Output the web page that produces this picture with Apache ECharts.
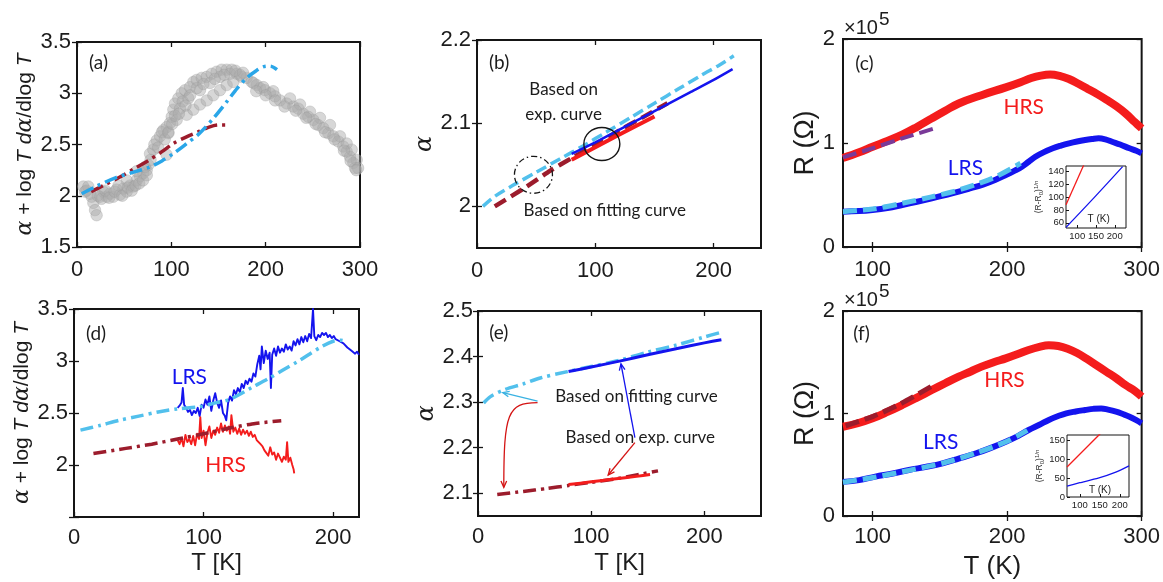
<!DOCTYPE html>
<html><head><meta charset="utf-8">
<script src="https://cdn.jsdelivr.net/npm/echarts@6/dist/echarts.min.js"></script>
<style>html,body{margin:0;padding:0;background:#fff}#chart{width:1163px;height:582px}</style>
</head><body><div id="chart"></div>
<script>
// ---------- (a) alpha + log T dalpha/dlog T vs T ----------
const aMeasured = [[6.7,2.09],[8.5,2.04],[12,2.09],[15.5,1.99],[17.3,1.93],[19.1,1.86],[20.8,1.81],[24.4,1.99],[27.9,2.04],[31.4,1.99],[35,2.02],[38.5,1.99],[42,2.06],[45.6,2.01],[49.1,2.07],[52.7,2.04],[56.2,2.10],[59.7,2.09],[63.3,2.15],[66.8,2.19],[70.3,2.22],[73.9,2.25],[75.6,2.30],[77.4,2.41],[80.9,2.45],[84.5,2.54],[88,2.58],[91.5,2.64],[95,2.67],[98.6,2.71],[100.4,2.77],[102.1,2.84],[103.9,2.90],[107.4,2.95],[111,3.0],[114.5,3.03],[119.8,3.06],[123.3,3.11],[126.9,3.13],[132.2,3.15],[137.5,3.16],[142.8,3.19],[148,3.21],[153.4,3.23],[158.7,3.23],[164,3.23],[169.3,3.19],[174.6,3.16],[179.9,3.15],[185.2,3.11],[190.5,3.08],[194,3.05],[199.3,3.03],[204.6,3.0],[209.9,2.97],[215.2,2.93],[222.3,2.90],[229.3,2.87],[234.6,2.85],[239.9,2.80],[245.2,2.77],[250.5,2.74],[255.8,2.69],[261.1,2.66],[266.4,2.61],[271.7,2.58],[277,2.53],[282.3,2.48],[285.9,2.43],[289.4,2.38],[292.9,2.32],[294.7,2.27],
  [95,2.40],[116.3,2.79],[123.3,2.84],[130.4,2.89],[137.5,2.93],[144.5,2.98],[151.6,3.03],[158.7,3.08],[165.7,3.11],
  [52.7,2.15],[63.3,2.24],[72,2.28],[96.8,2.61],[105.7,2.74],[109.2,2.85],[118,2.95],[130.4,3.03],[141,3.10],[151.6,3.16],[162.2,3.19],[172.8,3.18],[187,3.10],[197.5,3.06],[208,3.02],[225.8,2.95],[236.4,2.89],[247,2.82],[257.6,2.76],[268.2,2.69],[278.8,2.58],[285.9,2.51],[291.2,2.45],[296.5,2.35],[298,2.27],
  [10,2.05],[14,2.02],[22,2.0],[26,1.97],[30,2.05],[34,1.98],[40,2.04],[44,2.1],[48,2.0],[54,2.08],[58,2.05],[62,2.1],[66,2.12],[70,2.15],[74,2.2],
  [78,2.35],[82,2.5],[86,2.47],[90,2.62],[93,2.55],[97,2.62],[101,2.7],[104,2.78],[108,2.8],[112,2.92],[115,2.88],[120,2.98],[127,3.05],[134,3.09],[146,3.14],[156,3.18],[168,3.22],[176,3.2],
  [190,3.02],[200,2.98],[210,2.93],[220,2.87],[232,2.83],[243,2.76],[253,2.7],[263,2.62],[273,2.55],[283,2.44],[290,2.34],[296,2.25]];
const aFitLRS = [[5,2.02],[20,2.09],[42,2.18],[60,2.23],[77,2.28],[90,2.34],[102,2.41],[115,2.5],[130,2.61],[145,2.76],[159,2.92],[170,3.05],[180,3.15],[190,3.22],[198,3.26],[205,3.265],[212,3.23]];
const aFitHRS = [[15,2.04],[30,2.11],[45,2.18],[60,2.26],[75,2.34],[90,2.43],[102,2.51],[115,2.57],[130,2.63],[140,2.67],[150,2.69],[160,2.69]];

// ---------- (b) alpha vs T ----------
const bFitLRS = [[5,2.0],[15,2.012],[30,2.025],[50,2.041],[70,2.057],[90,2.073],[110,2.09],[130,2.107],[150,2.124],[170,2.141],[190,2.158],[205,2.17],[217,2.181]];
const bExpLRS = [[80,2.063],[100,2.077],[120,2.092],[140,2.107],[160,2.122],[180,2.137],[200,2.152],[216,2.165]];
const bFitHRS = [[15,2.0],[40,2.022],[62,2.043],[80,2.058],[100,2.074],[120,2.091],[140,2.107],[161,2.124]];
const bExpHRS = [[80,2.056],[100,2.071],[120,2.086],[150,2.108]];

// ---------- (c) R vs T (units of 1e5 ohm) ----------
const cHRS = [[78,0.855],[90,0.91],[100,0.964],[111,1.02],[122,1.08],[133,1.155],[144,1.237],[154,1.31],[164,1.38],[181,1.46],[199,1.535],[210,1.585],[218,1.625],[225,1.648],[232,1.658],[239,1.645],[246,1.615],[253,1.57],[260,1.52],[267,1.47],[274,1.415],[281,1.355],[288,1.285],[295,1.2],[300,1.14]];
const cLRS = [[78,0.34],[90,0.345],[100,0.356],[111,0.375],[122,0.404],[133,0.435],[144,0.468],[154,0.5],[164,0.532],[173,0.565],[182,0.6],[191,0.645],[199,0.692],[205,0.73],[211,0.772],[216,0.82],[221,0.868],[227,0.91],[234,0.949],[240,0.975],[246,0.997],[252,1.015],[258,1.029],[263,1.038],[268,1.045],[273,1.035],[278,1.012],[284,0.985],[291,0.949],[296,0.925],[300,0.9]];
const cFitHRS = [[78,0.862],[100,0.95],[122,1.045],[146,1.14]];
const cFitLRS = [[78,0.34],[100,0.365],[122,0.42],[143,0.48],[164,0.548],[189,0.66],[210,0.805]];
const cInsetHRS = [[70,88],[117,149]];
const cInsetLRS = [[70,53],[145,99],[221,147]];

// ---------- (d) alpha + log T dalpha/dlog T vs T ----------
const dLRS = [[80,2.55],[81.5,2.57],[83,2.6],[84,2.74],[85,2.58],[86.5,2.55],[88,2.51],[89.5,2.53],[91,2.48],[92.5,2.52],[94,2.5],[95.5,2.55],[97,2.47],[98.5,2.58],[100,2.55],[101.5,2.63],[103,2.58],[104.5,2.66],[106,2.52],[107.5,2.62],[109,2.69],[110.5,2.6],[112,2.55],[113.5,2.62],[115,2.5],[116.5,2.47],[117.5,2.43],[119,2.6],[120.5,2.66],[122,2.62],[123.5,2.72],[125,2.68],[126.5,2.74],[128,2.7],[129.5,2.78],[131,2.74],[132.5,2.81],[134,2.78],[135.5,2.83],[137,2.8],[138.5,2.88],[140,2.85],[141.5,2.97],[143,3.05],[144,2.92],[145,3.14],[146.5,2.98],[148,3.1],[149.5,3.02],[151,3.08],[152,2.74],[153,3.06],[154.5,3.12],[156,3.05],[157.5,3.14],[159,3.08],[160.5,3.12],[162,3.09],[163.5,3.16],[165,3.11],[166.5,3.14],[168,3.1],[169.5,3.19],[171,3.15],[172.5,3.21],[174,3.16],[175.5,3.23],[177,3.18],[178.5,3.24],[180,3.19],[181.5,3.26],[183,3.22],[184.5,3.5],[185.5,3.24],[187,3.2],[188.5,3.25],[190,3.23],[191.5,3.27],[193,3.25],[194.5,3.27],[196,3.23],[197.5,3.25],[199,3.22],[200.5,3.24],[202,3.21],[203.5,3.22],[205,3.19],[206.5,3.2],[208,3.17],[209.5,3.16],[211,3.13],[212.5,3.14],[214,3.1],[215.5,3.11],[217,3.07],[218.5,3.09],[220,3.06]];
const dHRS = [[80,2.24],[81.5,2.2],[83,2.26],[84.5,2.18],[86,2.29],[87.5,2.22],[89,2.25],[90.5,2.2],[92,2.28],[93.5,2.19],[95,2.3],[96.5,2.25],[97.5,2.46],[98.5,2.26],[100,2.33],[101.5,2.19],[103,2.31],[104.5,2.37],[106,2.26],[107.5,2.33],[109,2.29],[110.5,2.36],[112,2.31],[113.5,2.4],[115,2.32],[116.5,2.38],[118,2.33],[119.5,2.37],[120.5,2.3],[121.5,2.48],[123,2.32],[124.5,2.36],[126,2.3],[127.5,2.35],[129,2.29],[130.5,2.34],[132,2.3],[133.5,2.33],[135,2.28],[136.5,2.32],[138,2.27],[139.5,2.29],[141,2.24],[142.5,2.25],[144,2.2],[145.5,2.18],[147,2.14],[148.5,2.15],[150,2.09],[151.5,2.17],[153,2.1],[154.5,2.12],[156,2.05],[157.5,2.11],[159,2.07],[160.5,2.03],[162,2.08],[163.5,2.05],[164.5,2.22],[165.5,2.03],[167,2.07],[168.5,2.0],[169.5,1.96],[170,1.92]];
const dFitLRS = [[5,2.335],[20,2.38],[35,2.43],[50,2.47],[65,2.51],[80,2.54],[97,2.56],[110,2.6],[120,2.63],[138,2.75],[150,2.83],[161,2.91],[172,2.99],[181,3.06],[190,3.13],[200,3.19],[206,3.2],[211,3.18]];
const dFitHRS = [[15,2.11],[40,2.16],[60,2.2],[80,2.25],[100,2.3],[120,2.355],[140,2.4],[160,2.425]];

// ---------- (e) alpha vs T ----------
const eFitLRS = [[5,2.298],[11,2.312],[23,2.327],[40,2.34],[55,2.353],[79,2.367],[100,2.378],[125,2.392],[150,2.41],[175,2.425],[200,2.443],[213,2.452]];
const eExpLRS = [[80,2.367],[100,2.377],[125,2.39],[150,2.404],[175,2.417],[200,2.43],[215,2.437]];
const eFitHRS = [[17,2.097],[40,2.104],[60,2.11],[80,2.117],[100,2.124],[120,2.131],[140,2.14],[159,2.149]];
const eExpHRS = [[80,2.119],[100,2.125],[120,2.131],[140,2.137],[152,2.141]];

// ---------- (f) R vs T (units of 1e5 ohm) ----------
const fHRS = [[78,0.871],[89,0.905],[100,0.953],[111,1.015],[122,1.083],[133,1.155],[144,1.229],[154,1.295],[164,1.359],[173,1.41],[181,1.457],[190,1.5],[199,1.538],[208,1.58],[216,1.62],[224,1.65],[231,1.665],[238,1.658],[245,1.632],[252,1.59],[259,1.535],[266,1.475],[274,1.405],[281,1.345],[288,1.278],[295,1.22],[300,1.164]];
const fLRS = [[78,0.333],[90,0.35],[102,0.384],[115,0.415],[127,0.449],[140,0.48],[152,0.514],[164,0.56],[177,0.612],[188,0.665],[199,0.725],[208,0.78],[216,0.839],[224,0.89],[231,0.937],[238,0.975],[244,1.002],[251,1.02],[258,1.034],[264,1.045],[270,1.05],[275,1.038],[281,1.018],[286,0.995],[291,0.969],[296,0.935],[300,0.904]];
const fFitHRS = [[80,0.88],[100,0.97],[120,1.09],[147,1.29]];
const fFitLRS = [[78,0.33],[100,0.375],[127,0.445],[152,0.515],[177,0.615],[200,0.73],[215,0.835]];
const fInsetHRS = [[68,80],[146,163],[160,178]];
const fInsetLRS = [[68,29],[100,38],[146,50],[190,66],[223,83]];

// ---------- tick values ----------
const ticksA_T = [0,100,200,300];
const ticksA_Y = [1.5,2,2.5,3,3.5];
const ticksB_T = [0,100,200];
const ticksB_Y = [2,2.1,2.2];
const ticksR_T = [100,200,300];
const ticksR_Y = [0,1,2];
const ticksD_T = [0,100,200];
const ticksD_Y = [2,2.5,3,3.5];
const ticksE_T = [0,100,200];
const ticksE_Y = [2.1,2.2,2.3,2.4,2.5];
const ticksInset_T = [100,150,200];
const ticksInsetC_Y = [60,80,100,120,140];
const ticksInsetF_Y = [0,50,100,150];

// ---------- colours ----------
const C_SKY = '#2aa6e8', C_CYAN = '#52c0ec', C_DRED = '#9c1c2c', C_RED = '#f41c1c', C_BLUE = '#1414ee', C_PURPLE = '#7a3a98', C_GRAY = 'rgba(172,172,172,0.6)';
const SANS = 'Liberation Sans', HUMAN = 'Lato';
const DASHDOT = [13, 5, 3, 5];

const grids = [], xAxes = [], yAxes = [], series = [];

function panel(box, xr, xt, yr, yt, o) {
  o = o || {};
  const gi = grids.length;
  const small = !!o.small;
  grids.push({left: box[0], top: box[1], width: box[2], height: box[3], show: true,
    borderColor: '#151515', borderWidth: small ? 1 : 2, backgroundColor: small ? '#fff' : 'transparent'});
  const fs = small ? 9.5 : 22;
  const tick = {inside: true, length: small ? 3 : 5, lineStyle: {color: '#151515', width: small ? 1 : 1.3}};
  const xi = xAxes.length;
  xAxes.push({gridIndex: gi, type: 'value', min: xr[0], max: xr[1], position: 'bottom',
    axisLine: {show: false}, splitLine: {show: false},
    axisTick: Object.assign({customValues: xt}, tick),
    axisLabel: {customValues: xt, fontFamily: SANS, fontSize: fs, color: '#1c1c1c', margin: o.xMargin == null ? 11 : o.xMargin},
    name: o.xName || '', nameLocation: 'middle', nameGap: o.xNameGap || 36,
    nameTextStyle: {fontFamily: SANS, fontSize: o.xNameSize || 24, color: '#1c1c1c'}});
  if (!small) xAxes.push({gridIndex: gi, type: 'value', min: xr[0], max: xr[1], position: 'top',
    axisLine: {show: false}, splitLine: {show: false},
    axisTick: Object.assign({customValues: xt}, tick), axisLabel: {show: false}});
  const yi = yAxes.length;
  yAxes.push({gridIndex: gi, type: 'value', min: yr[0], max: yr[1], position: 'left',
    axisLine: {show: false}, splitLine: {show: false},
    axisTick: Object.assign({customValues: yt}, tick),
    axisLabel: {customValues: o.yLabelValues || yt, fontFamily: SANS, fontSize: fs, color: '#1c1c1c', margin: o.yMargin == null ? 6 : o.yMargin},
    name: o.yName || '', nameLocation: 'middle', nameGap: o.yNameGap || 36,
    nameTextStyle: o.yNameStyle || {}});
  if (!small) yAxes.push({gridIndex: gi, type: 'value', min: yr[0], max: yr[1], position: 'right',
    axisLine: {show: false}, splitLine: {show: false},
    axisTick: Object.assign({customValues: yt}, tick), axisLabel: {show: false}});
  return {gi: gi, xi: xi, yi: yi};
}

function line(p, data, color, width, type, smooth, z) {
  series.push({type: 'line', xAxisIndex: p.xi, yAxisIndex: p.yi, data: data, showSymbol: false,
    smooth: smooth || false, silent: true, animation: false, z: z || 2,
    lineStyle: {color: color, width: width, type: type || 'solid', cap: 'butt', join: 'round'}});
}

const alphaLogName = {fontFamily: SANS, fontSize: 21, color: '#1c1c1c',
  rich: {g: {fontFamily: 'DejaVu Serif', fontStyle: 'italic', fontSize: 22, color: '#1c1c1c'},
         i: {fontFamily: SANS, fontStyle: 'italic', fontSize: 21, color: '#1c1c1c'}}};
const alphaLogText = '{g|α} + log {i|T} {i|d}{g|α}/dlog {i|T}';
const alphaName = {fontFamily: 'DejaVu Serif', fontStyle: 'italic', fontSize: 24, color: '#1c1c1c'};
const rName = {fontFamily: SANS, fontSize: 27, color: '#1c1c1c'};
const insetName = {fontFamily: SANS, fontSize: 8.5, color: '#333',
  rich: {s: {fontSize: 6, verticalAlign: 'bottom', padding: [4,0,0,0]}, u: {fontSize: 6, padding: [0,0,5,0]}}};

const pA = panel([77, 42, 283, 205], [0, 300], ticksA_T, [1.5, 3.5], ticksA_Y,
  {yName: alphaLogText, yNameGap: 38, yNameStyle: alphaLogName, xMargin: 12});
const pB = panel([477, 40, 284, 208], [0, 240], ticksB_T, [1.95, 2.2], ticksB_Y,
  {yName: 'α', yNameGap: 38, yNameStyle: alphaName, xMargin: 12});
const pC = panel([843, 39, 299, 208], [78, 300], ticksR_T, [0, 2], ticksR_Y,
  {yName: 'R (Ω)', yNameGap: 22, yNameStyle: rName, xMargin: 12, yMargin: 8});
const pCi = panel([1066, 166, 60, 62], [70, 230], ticksInset_T, [52, 148], ticksInsetC_Y,
  {small: true, xMargin: 3, yMargin: 2, yName: '(R-R{s|0}){u|1/n}', yNameGap: 16, yNameStyle: insetName});
const pD = panel([74, 309, 285, 208], [0, 220], ticksD_T, [1.5, 3.5], [1.5, 2, 2.5, 3, 3.5],
  {yLabelValues: ticksD_Y, yName: alphaLogText, yNameGap: 36, yNameStyle: alphaLogName,
   xName: 'T [K]', xNameGap: 34, xMargin: 10});
const pE = panel([478, 311, 283, 205], [0, 250], ticksE_T, [2.05, 2.5], ticksE_Y,
  {yName: 'α', yNameGap: 38, yNameStyle: alphaName, xName: 'T [K]', xNameGap: 35, xMargin: 10, yMargin: 5});
const pF = panel([843, 311, 299, 205], [78, 300], ticksR_T, [0, 2], ticksR_Y,
  {yName: 'R (Ω)', yNameGap: 22, yNameStyle: rName, xName: 'T (K)', xNameGap: 38, xNameSize: 26, xMargin: 10, yMargin: 8});
const pFi = panel([1067, 435, 62, 62], [68, 223], ticksInset_T, [0, 165], ticksInsetF_Y,
  {small: true, xMargin: 3, yMargin: 2, yName: '(R-R{s|0}){u|1/n}', yNameGap: 16, yNameStyle: insetName});

// (a)
series.push({type: 'scatter', xAxisIndex: pA.xi, yAxisIndex: pA.yi, data: aMeasured, symbolSize: 11.5, silent: true, animation: false,
  itemStyle: {color: C_GRAY, borderColor: 'rgba(150,150,150,0.5)', borderWidth: 0.8}});
line(pA, aFitHRS, C_DRED, 3.5, DASHDOT, 0.3, 3);
line(pA, aFitLRS, C_SKY, 3.5, DASHDOT, 0.3, 4);
// (b)
line(pB, bFitLRS, C_CYAN, 3.5, [11, 5], 0.3, 2);
line(pB, bFitHRS, C_DRED, 4.5, [13, 6], 0.2, 3);
line(pB, bExpLRS, C_BLUE, 2.5, 'solid', 0.2, 4);
line(pB, bExpHRS, C_RED, 4, 'solid', 0.2, 5);
// (c)
line(pC, cHRS, C_RED, 8, 'solid', 0.4, 2);
line(pC, cLRS, C_BLUE, 6, 'solid', 0.4, 2);
line(pC, cFitHRS, C_PURPLE, 4, [14, 6], 0.3, 3);
line(pC, cFitLRS, C_CYAN, 5, [14, 6], 0.3, 3);
line(pCi, cInsetHRS, C_RED, 1.3, 'solid', false, 3);
line(pCi, cInsetLRS, C_BLUE, 1.3, 'solid', 0.2, 3);
// (d)
line(pD, dLRS, C_BLUE, 1.9, 'solid', false, 2);
line(pD, dHRS, C_RED, 1.9, 'solid', false, 2);
line(pD, dFitLRS, C_CYAN, 3.5, DASHDOT, 0.3, 3);
line(pD, dFitHRS, C_DRED, 3.5, DASHDOT, 0.2, 3);
// (e)
line(pE, eFitLRS, C_CYAN, 3.5, DASHDOT, 0.3, 2);
line(pE, eExpLRS, C_BLUE, 3, 'solid', 0.2, 3);
line(pE, eFitHRS, C_DRED, 3.5, DASHDOT, 0.2, 2);
line(pE, eExpHRS, C_RED, 3, 'solid', 0.2, 3);
// (f)
line(pF, fHRS, C_RED, 8, 'solid', 0.4, 2);
line(pF, fLRS, C_BLUE, 6, 'solid', 0.4, 2);
line(pF, fFitHRS, C_DRED, 5, [14, 6], 0.3, 3);
line(pF, fFitLRS, C_CYAN, 5, [14, 6], 0.3, 3);
line(pFi, fInsetHRS, C_RED, 1.3, 'solid', false, 3);
line(pFi, fInsetLRS, C_BLUE, 1.3, 'solid', 0.2, 3);

const chart = echarts.init(document.getElementById('chart'), null, {renderer: 'canvas'});
chart.setOption({backgroundColor: '#fff', animation: false, grid: grids, xAxis: xAxes, yAxis: yAxes, series: series});

// ---------- annotations ----------
function at(p, x, y) { return chart.convertToPixel({xAxisIndex: p.xi, yAxisIndex: p.yi}, [x, y]); }
const g = [];
function text(p, x, y, s, font, color, align) {
  const q = at(p, x, y);
  g.push({type: 'text', x: q[0], y: q[1], z: 50, silent: true,
    style: {text: s, font: font, fill: color || '#1c1c1c', align: align || 'center', verticalAlign: 'middle', lineHeight: 25}});
}
function arrowHead(tip, from, color) {
  const dx = tip[0] - from[0], dy = tip[1] - from[1], L = Math.hypot(dx, dy) || 1;
  const ux = dx / L, uy = dy / L, len = 7, s = Math.sin(0.42), c = Math.cos(0.42);
  const w1 = [tip[0] - len * (ux * c - uy * s), tip[1] - len * (uy * c + ux * s)];
  const w2 = [tip[0] - len * (ux * c + uy * s), tip[1] - len * (uy * c - ux * s)];
  g.push({type: 'polyline', z: 50, silent: true, shape: {points: [w1, tip, w2]}, style: {stroke: color, lineWidth: 1.3, fill: null}});
}
function arrow(p, a, b, color) {
  const A = at(p, a[0], a[1]), B = at(p, b[0], b[1]);
  g.push({type: 'line', z: 50, silent: true, shape: {x1: A[0], y1: A[1], x2: B[0], y2: B[1]}, style: {stroke: color, lineWidth: 1.3}});
  arrowHead(B, A, color);
}

const LBL = '19px ' + HUMAN, NOTE = '17px ' + HUMAN, STATE = '21px ' + HUMAN;
text(pA, 22.8, 3.30, '(a)', LBL);
text(pB, 18.7, 2.172, '(b)', LBL);
text(pB, 73.2, 2.125, 'Based on\nexp. curve', NOTE);
text(pB, 108, 1.995, 'Based on fitting curve', NOTE);
text(pC, 94, 1.76, '(c)', LBL);
text(pC, 212.3, 1.346, 'HRS', STATE, C_RED);
text(pC, 169, 0.76, 'LRS', STATE, C_BLUE);
text(pD, 17, 3.26, '(d)', LBL);
text(pD, 89, 2.84, 'LRS', STATE, C_BLUE);
text(pD, 117, 2.0, 'HRS', STATE, C_RED);
text(pE, 18.4, 2.451, '(e)', LBL);
text(pE, 140, 2.312, 'Based on fitting curve', NOTE);
text(pE, 143.4, 2.223, 'Based on exp. curve', NOTE);
text(pF, 91.8, 1.776, '(f)', LBL);
text(pF, 198, 1.327, 'HRS', STATE, C_RED);
text(pF, 150.6, 0.722, 'LRS', STATE, C_BLUE);
text(pCi, 157, 66, 'T (K)', '10px ' + SANS, '#222');
text(pFi, 150.5, 17.7, 'T (K)', '10px ' + SANS, '#222');

// exponent markers for the resistance axes
[pC, pF].forEach(function (p) {
  const q = at(p, 78, 2);
  g.push({type: 'text', x: q[0] + 1, y: q[1] - 11, z: 50, silent: true, style: {text: '×10', font: '20px ' + SANS, fill: '#1c1c1c', align: 'left', verticalAlign: 'middle'}});
  g.push({type: 'text', x: q[0] + 36, y: q[1] - 19, z: 50, silent: true, style: {text: '5', font: '19px ' + SANS, fill: '#1c1c1c', align: 'left', verticalAlign: 'middle'}});
});

// circles marking the two estimates in (b)
const cs = at(pB, 105.5, 2.075), cd = at(pB, 47.7, 2.038);
g.push({type: 'ellipse', z: 50, silent: true, shape: {cx: cs[0], cy: cs[1], rx: 18, ry: 16.5}, style: {fill: null, stroke: '#151515', lineWidth: 1.4}});
g.push({type: 'ellipse', z: 50, silent: true, shape: {cx: cd[0], cy: cd[1], rx: 19, ry: 18.5}, style: {fill: null, stroke: '#151515', lineWidth: 1.3, lineDash: [6, 3, 1.5, 3]}});

// pointers in (e)
arrow(pE, [52.6, 2.302], [21.9, 2.321], '#3ab2e2');
const r0 = at(pE, 52.6, 2.299), r3 = at(pE, 22.8, 2.113);
g.push({type: 'bezierCurve', z: 50, silent: true,
  shape: {x1: r0[0], y1: r0[1], cpx1: r0[0] - 30, cpy1: r0[1], cpx2: r3[0], cpy2: r0[1] + 10, x2: r3[0], y2: r3[1]},
  style: {stroke: '#d41414', lineWidth: 1.3, fill: null}});
arrowHead(r3, [r3[0], r3[1] - 10], '#d41414');
arrow(pE, [138.6, 2.222], [126.3, 2.384], C_BLUE);
arrow(pE, [138.6, 2.211], [115, 2.14], '#d41414');

chart.setOption({graphic: g});
</script></body></html>
